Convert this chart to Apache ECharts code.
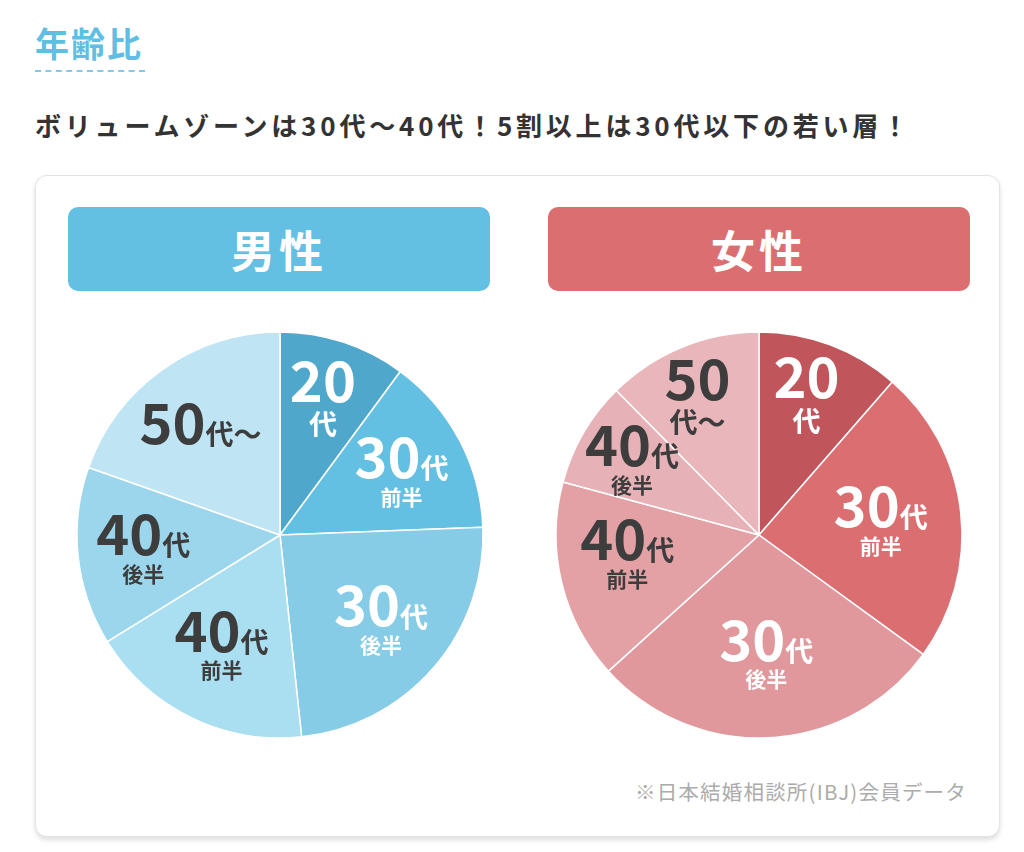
<!DOCTYPE html>
<html>
<head>
<meta charset="utf-8">
<script src="https://cdn.jsdelivr.net/npm/echarts@6/dist/echarts.min.js"></script>
<style>
  html, body { margin: 0; padding: 0; background: #fff; }
  body { width: 1024px; height: 852px; position: relative; overflow: hidden;
         font-family: "Noto Sans CJK JP", "Noto Sans", sans-serif; }
  .title { position: absolute; left: 35px; top: 26px; font-size: 34px; line-height: 34px;
           font-weight: bold; color: #5fbfe3; letter-spacing: 2px; }
  .title-line { position: absolute; left: 35px; top: 70px; width: 110px;
                border-bottom: 2px dashed #7fcbe8; }
  .lead { position: absolute; left: 35px; top: 110px; font-size: 26px; line-height: 30px;
          font-weight: bold; color: #333; letter-spacing: 3.8px; white-space: nowrap; }
  .card { position: absolute; left: 35px; top: 175px; width: 963px; height: 660px;
          border: 1px solid #e3e3e3; border-radius: 12px; background: #fff;
          box-shadow: 0 3px 5px rgba(0,0,0,0.13); }
  .head { position: absolute; top: 207px; width: 422px; height: 84px; border-radius: 10px;
          color: #fff; font-size: 44px; font-weight: bold; line-height: 84px;
          text-align: center; letter-spacing: 4px; }
  .male { left: 68px; background: #63c0e2; }
  .female { left: 548px; background: #db6e71; }
  .note { position: absolute; right: 57px; top: 776px; font-size: 20.5px; color: #ababab;
          letter-spacing: 1.2px; white-space: nowrap; }
  #pies { position: absolute; left: 0; top: 0; width: 1024px; height: 852px; }
</style>
</head>
<body>
<div class="title">年齢比</div>
<div class="title-line"></div>
<div class="lead">ボリュームゾーンは30代～40代！5割以上は30代以下の若い層！</div>
<div class="card"></div>
<div class="head male">男性</div>
<div class="head female">女性</div>
<div class="note">※日本結婚相談所(IBJ)会員データ</div>
<div id="pies"></div>
<script>
// 年代区分と割合（%）
var categories = ['20代', '30代前半', '30代後半', '40代前半', '40代後半', '50代〜'];
var maleValues = [10.1, 14.3, 23.9, 17.9, 14.2, 19.6];
var femaleValues = [11.4, 23.6, 28.3, 15.9, 8.4, 12.4];

// ラベル文字
var maleLabels = ['{n|20}\n{d|代}', '{n|30}{d|代}\n{s|前半}', '{n|30}{d|代}\n{s|後半}',
                  '{n|40}{d|代}\n{s|前半}', '{n|40}{d|代}\n{s|後半}', '{n|50}{d|代〜}'];
var femaleLabels = ['{n|20}\n{d|代}', '{n|30}{d|代}\n{s|前半}', '{n|30}{d|代}\n{s|後半}',
                    '{n|40}{d|代}\n{s|前半}', '{n|40}{d|代}\n{s|後半}', '{n|50}\n{d|代〜}'];

// ラベルの微調整（px）
var maleNudge = [[0, -8], [0, 0], [-3, -6], [2, -14], [0, -2], [0, 0]];
var femaleNudge = [[0, -15], [-13, 0], [0, -17], [0, -14], [-10, -8], [-10, -15]];

var maleColors = ['#4fa7cb', '#63c0e2', '#86cce7', '#aadef1', '#9cd6ec', '#bfe4f3'];
var femaleColors = ['#c0565b', '#db6e71', '#e0989d', '#e3a1a6', '#e7b2b7', '#e8b6bb'];
var labelColors = ['#fff', '#fff', '#fff', '#3d3d3d', '#3d3d3d', '#3d3d3d'];

var font = '"Noto Sans CJK JP", "Noto Sans", sans-serif';
var rich = {
    n: { fontSize: 56, fontWeight: 'bold', lineHeight: 52, fontFamily: font },
    d: { fontSize: 28, fontWeight: 'bold', lineHeight: 32, fontFamily: font, verticalAlign: 'bottom' },
    s: { fontSize: 21, fontWeight: 'bold', lineHeight: 28, fontFamily: font }
};

function pieData(values, colors) {
    return values.map(function (v, i) {
        return { name: categories[i], value: v, itemStyle: { color: colors[i] } };
    });
}

function labelData(values, labels) {
    return values.map(function (v, i) {
        return {
            name: categories[i], value: v,
            label: { formatter: labels[i], color: labelColors[i] }
        };
    });
}

function baseSeries(center, values, colors) {
    return {
        type: 'pie', center: center, radius: [0, 203],
        startAngle: 90, clockwise: true, silent: true,
        label: { show: false }, labelLine: { show: false },
        itemStyle: { borderColor: '#fff', borderWidth: 1.5 },
        emphasis: { disabled: true },
        data: pieData(values, colors)
    };
}

// ラベル位置用の透明な重ね円
function labelSeries(center, values, labels, inner, nudge) {
    return {
        type: 'pie', center: center, radius: [inner, 203],
        startAngle: 90, clockwise: true, silent: true,
        avoidLabelOverlap: false,
        itemStyle: { color: 'rgba(0,0,0,0)', borderWidth: 0 },
        label: { show: true, position: 'inside', align: 'center', rich: rich },
        labelLine: { show: false },
        labelLayout: function (p) {
            return { dx: nudge[p.dataIndex][0], dy: nudge[p.dataIndex][1], hideOverlap: false };
        },
        emphasis: { disabled: true },
        data: labelData(values, labels)
    };
}

var myChart = echarts.init(document.getElementById('pies'));
var option = {
    animation: false,
    series: [
        baseSeries([280, 535], maleValues, maleColors),
        baseSeries([759, 535], femaleValues, femaleColors),
        labelSeries([280, 535], maleValues, maleLabels, 66, maleNudge),
        labelSeries([759, 535], femaleValues, femaleLabels, 62, femaleNudge)
    ]
};
myChart.setOption(option);
</script>
</body>
</html>
